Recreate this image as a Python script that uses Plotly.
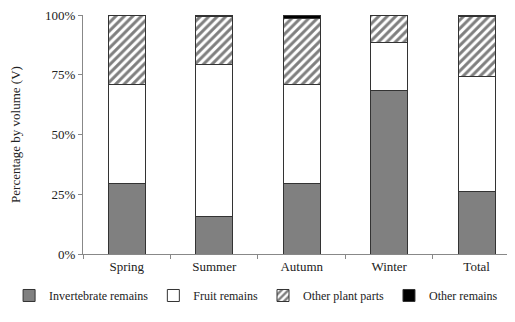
import plotly.graph_objects as go

categories = ["Spring", "Summer", "Autumn", "Winter", "Total"]
invertebrate = [29.3, 15.8, 29.7, 68.3, 26.3]
fruit = [41.8, 63.3, 41.4, 20.2, 48.0]
other_plant = [28.9, 20.4, 27.4, 11.3, 24.9]
other_remains = [0.0, 0.5, 1.5, 0.2, 0.8]
tick_vals = [0, 25, 50, 75, 100]
tick_text = ["0%", "25%", "50%", "75%", "100%"]

font = dict(family="Liberation Serif, Times New Roman, serif", size=13, color="#222")
line = dict(color="#333", width=1)

fig = go.Figure()
fig.add_bar(x=categories, y=invertebrate, name="Invertebrate remains",
            marker=dict(color="#808080", line=line))
fig.add_bar(x=categories, y=fruit, name="Fruit remains",
            marker=dict(color="white", line=line))
fig.add_bar(x=categories, y=other_plant, name="Other plant parts",
            marker=dict(color="white", line=line,
                        pattern=dict(shape="/", fgcolor="black", bgcolor="white", size=6, solidity=0.5)))
fig.add_bar(x=categories, y=other_remains, name="Other remains",
            marker=dict(color="black", line=line))

fig.update_layout(
    width=515, height=322, barmode="stack", bargap=0.58,
    margin=dict(l=75, r=0, t=4, b=76),
    paper_bgcolor="white", plot_bgcolor="white",
    font=font, showlegend=True,
    legend=dict(orientation="h", x=-0.168, xanchor="left", y=-0.1736, yanchor="middle",
                font=dict(size=12), traceorder="normal", itemwidth=30,
                bgcolor="rgba(0,0,0,0)"),
    xaxis=dict(range=[-0.5, 4.53], showline=True, linecolor="#888", linewidth=1,
               ticks="outside", tickson="boundaries", tickcolor="#888", ticklen=4,
               showgrid=False),
    yaxis=dict(range=[0, 100], tickvals=tick_vals, ticktext=tick_text,
               showline=True, linecolor="#888", linewidth=1, ticks="outside",
               tickcolor="#888", ticklen=4, showgrid=False, zeroline=False,
               ticklabeloverflow="allow",
               title=dict(text="Percentage by volume (V)", standoff=26, font=dict(size=13))),
)
fig.write_html("out.html")
